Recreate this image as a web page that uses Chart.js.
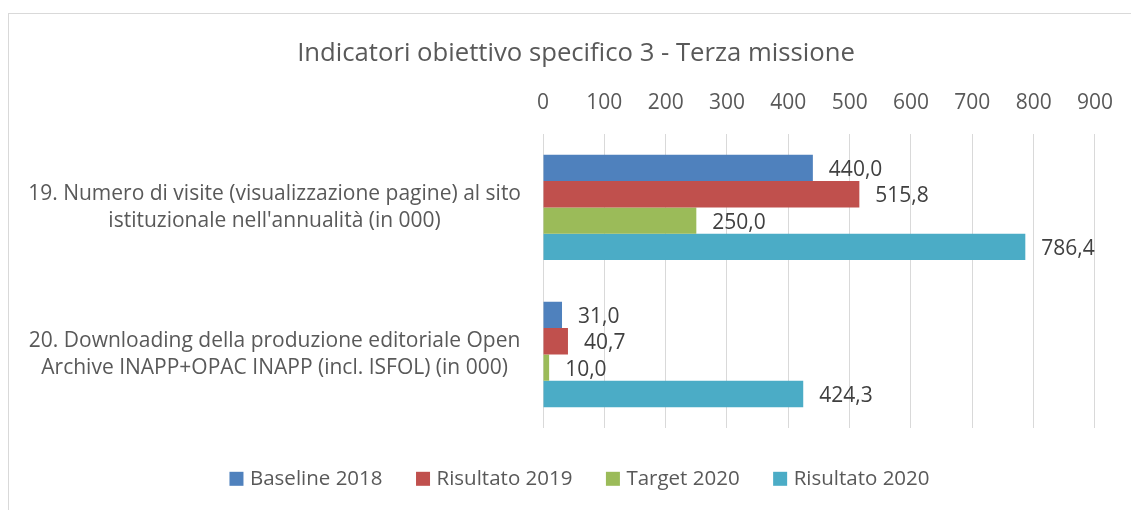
<!DOCTYPE html>
<html><head><meta charset="utf-8">
<script src="https://cdn.jsdelivr.net/npm/chart.js@4/dist/chart.umd.min.js"></script>
<style>
html,body{margin:0;padding:0;background:#fff;}
#wrap{position:relative;width:1131px;height:510px;overflow:hidden;}
#frame{position:absolute;left:8px;top:13px;width:1140px;height:520px;border-left:1px solid #d9d9d9;border-top:1px solid #d9d9d9;}
canvas{position:absolute;left:0;top:0;}
</style></head>
<body>
<div id="wrap"><div id="frame"></div><canvas id="c" width="1131" height="510"></canvas></div>
<script>
const titleText = "Indicatori obiettivo specifico 3 - Terza missione";
const categories = [
  ["19. Numero di visite (visualizzazione pagine) al sito", "istituzionale nell'annualità (in 000)"],
  ["20. Downloading della produzione editoriale Open", "Archive INAPP+OPAC INAPP (incl. ISFOL) (in 000)"]
];
const seriesNames = ["Baseline 2018", "Risultato 2019", "Target 2020", "Risultato 2020"];
const baseline2018 = [440.0, 31.0];
const risultato2019 = [515.8, 40.7];
const target2020 = [250.0, 10.0];
const risultato2020 = [786.4, 424.3];
const colors = ["#4F81BD", "#C0504D", "#9BBB59", "#4BACC6"];
const xMin = 0, xMax = 900, xStep = 100;

const FONT = "'Open Sans'";
const seriesData = [baseline2018, risultato2019, target2020, risultato2020];

const labelPlugin = {
  id: 'valueLabels',
  afterDatasetsDraw(chart) {
    const ctx = chart.ctx;
    ctx.save();
    ctx.font = "21px " + FONT;
    ctx.fillStyle = "#404040";
    ctx.textAlign = "left";
    ctx.textBaseline = "middle";
    chart.data.datasets.forEach((ds, i) => {
      const meta = chart.getDatasetMeta(i);
      meta.data.forEach((bar, j) => {
        const v = ds.data[j];
        ctx.fillText(v.toFixed(1).replace('.', ','), bar.x + 16, bar.y + 2);
      });
    });
    ctx.restore();
  }
};

const legendPlugin = {
  id: 'customLegend',
  afterDraw(chart) {
    const ctx = chart.ctx;
    ctx.save();
    ctx.font = "20.5px " + FONT;
    ctx.textBaseline = "middle";
    ctx.textAlign = "left";
    const box = 14, gapText = 6.5, gapItem = 33.5;
    const items = chart.data.datasets.map(ds => ({ text: ds.label, color: ds.backgroundColor, w: ctx.measureText(ds.label).width }));
    const total = items.reduce((s, it) => s + box + gapText + it.w, 0) + gapItem * (items.length - 1);
    let x = 579.5 - total / 2;
    const y = 478.8;
    items.forEach(it => {
      ctx.fillStyle = it.color;
      ctx.fillRect(x, y - box / 2, box, box);
      ctx.fillStyle = "#595959";
      ctx.fillText(it.text, x + box + gapText, y);
      x += box + gapText + it.w + gapItem;
    });
    ctx.restore();
  }
};

const titleShift = {
  id: 'titleShift',
  afterLayout(chart) {
    if (chart.titleBlock) { chart.titleBlock.left = 0; chart.titleBlock.right = 1152; }
  }
};

new Chart(document.getElementById('c'), {
  type: 'bar',
  data: {
    labels: categories,
    datasets: seriesData.map((d, i) => ({
      label: seriesNames[i],
      data: d,
      backgroundColor: colors[i],
      borderWidth: 0,
      barPercentage: 1.0,
      categoryPercentage: 0.717
    }))
  },
  options: {
    indexAxis: 'y',
    responsive: false,
    animation: false,
    layout: { padding: { left: 0, right: 34, top: 0, bottom: 82 } },
    scales: {
      x: {
        position: 'top',
        min: xMin, max: xMax,
        ticks: { stepSize: xStep, color: "#595959", font: { family: FONT, size: 21 }, padding: 18 },
        grid: { color: "#d9d9d9", lineWidth: 1, drawTicks: false },
        border: { display: false },
        afterFit(s) { s.height = 50; }
      },
      y: {
        ticks: { color: "#595959", font: { family: FONT, size: 21, lineHeight: 1.3 }, padding: 22, crossAlign: 'center' },
        grid: { display: false, drawTicks: false },
        border: { display: false },
        afterFit(s) { s.width = 543; }
      }
    },
    plugins: {
      title: { display: true, text: titleText, color: "#595959", font: { family: FONT, size: 25.7, weight: 'normal' }, padding: { top: 38, bottom: 15 } },
      legend: { display: false },
      tooltip: { enabled: false }
    }
  },
  plugins: [titleShift, labelPlugin, legendPlugin]
});
</script>
</body></html>
